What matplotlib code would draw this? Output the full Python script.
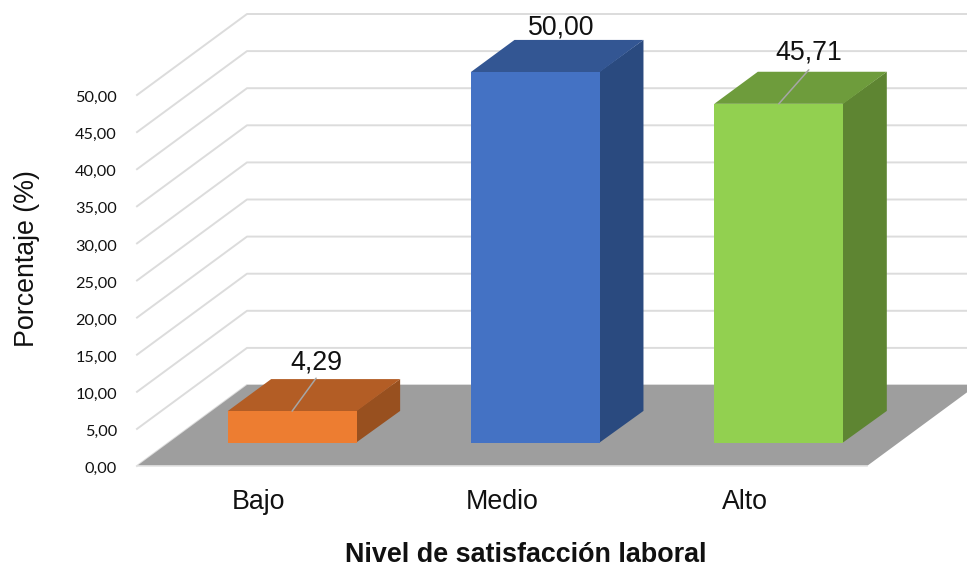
import matplotlib
matplotlib.use("Agg")
import matplotlib.pyplot as plt
from matplotlib.transforms import ScaledTranslation

categories = ["Bajo", "Medio", "Alto"]
values = [4.29, 50.00, 45.71]
label_texts = ["4,29", "50,00", "45,71"]
y_ticks = [0, 5, 10, 15, 20, 25, 30, 35, 40, 45, 50]
y_tick_labels = ["0,00", "5,00", "10,00", "15,00", "20,00", "25,00",
                 "30,00", "35,00", "40,00", "45,00", "50,00"]
front_colors = ["#ed7d31", "#4472c4", "#92d050"]
top_colors = ["#b35d25", "#335693", "#6e9c3c"]
side_colors = ["#98501f", "#2a4a7f", "#5e8532"]

W, H = 967, 569
# plot box in pixels: front edge of the floor
left_px, right_px, y0_px, y50_px = 137, 867, 466, 95
slot_px = (right_px - left_px) / 3
unit_px = (y0_px - y50_px) / 50

# fake 3d: how far a point at depth 1 is shifted, in data units
depth_x = 110 / slot_px
depth_y = 81 / unit_px
bar_d0 = 0.284
bar_d1 = 0.68
bar_w = 0.53


def shift(x, y, d):
    return x + d * depth_x, y + d * depth_y


fig = plt.figure(figsize=(W / 100, H / 100), dpi=100)
ax = fig.add_axes([left_px / W, (H - y0_px) / H,
                   (right_px - left_px) / W, (y0_px - y50_px) / H])
ax.set_xlim(0, 3)
ax.set_ylim(0, 50)
for s in ax.spines.values():
    s.set_visible(False)

# walls
for t in y_ticks:
    x1, y1 = shift(0, t, 1)
    x2, y2 = shift(3, t, 1)
    ax.plot([0, x1, x2], [t, y1, y2], color="#dcdcdc", lw=1.4, clip_on=False, zorder=1)

# floor
fx = [0, 3, shift(3, 0, 1)[0], shift(0, 0, 1)[0]]
fy = [0, 0, depth_y, depth_y]
ax.fill(fx, fy, color="#9e9e9e", lw=0, clip_on=False, zorder=2)
ax.plot([0, 3], [0, 0], color="#e4e4e4", lw=1.2, clip_on=False, zorder=2)

leader_px = [(24, 33), (26, 28), (30, 34)]
text_px = [49, 44, 51]

for i, v in enumerate(values):
    xa = i + 0.509 - bar_w / 2
    xb = xa + bar_w
    ax0, y0 = shift(xa, 0, bar_d0)
    bx0, _ = shift(xb, 0, bar_d0)
    ax1, y1 = shift(xa, 0, bar_d1)
    bx1, _ = shift(xb, 0, bar_d1)
    # side polygon reaches a little under the front face so no seam shows
    ax.fill([bx0 - 0.004, bx1, bx1, bx0 - 0.004], [y0, y1, y1 + v, y0 + v], color=side_colors[i], lw=0, clip_on=False, zorder=3)
    ax.fill([ax0, bx0, bx1, ax1], [y0 + v, y0 + v, y1 + v, y1 + v], color=top_colors[i], lw=0, clip_on=False, zorder=3)
    ax.fill([ax0, bx0, bx0, ax0], [y0, y0, y0 + v, y0 + v], color=front_colors[i], lw=0, clip_on=False, zorder=4)
    # data label with its leader line
    cx = (ax0 + bx0) / 2
    dx, dy = leader_px[i]
    ax.annotate("", xy=(cx, y0 + v), xycoords="data",
                xytext=(dx * 0.72, dy * 0.72), textcoords="offset points",
                arrowprops=dict(arrowstyle="-", color="#a6a6a6", lw=1.1, shrinkA=0, shrinkB=0),
                zorder=5)
    ax.annotate(label_texts[i], xy=(cx, y0 + v), xycoords="data",
                xytext=(dx * 0.72, text_px[i] * 0.72), textcoords="offset points",
                ha="center", va="center", fontsize=19.3, family="Liberation Sans",
                color="#111111", annotation_clip=False, zorder=6)

ax.set_yticks(y_ticks)
ax.set_yticklabels(y_tick_labels, fontsize=11.7, family="Lato", color="#111111")
ax.set_xticks([i + 0.5 for i in range(3)])
ax.set_xticklabels(categories, fontsize=19.3, family="Liberation Sans", color="#111111")
ax.tick_params(axis="y", length=0, pad=14.5)
ax.tick_params(axis="x", length=0, pad=16.5)
# nudge the tick labels down to sit level with the gridline starts
down = ScaledTranslation(0, -1.5 / 100, fig.dpi_scale_trans)
for lab in ax.get_yticklabels():
    lab.set_transform(lab.get_transform() + down)

ax.set_ylabel("Porcentaje (%)", fontsize=19.3, family="Liberation Sans", color="#111111")
ax.yaxis.set_label_coords((27 - left_px) / (right_px - left_px), (y0_px - 259) / (y0_px - y50_px))
ax.set_xlabel("Nivel de satisfacción laboral", fontsize=19.4, fontweight="bold", family="Liberation Sans", color="#111111")
ax.xaxis.set_label_coords((526 - left_px) / (right_px - left_px), -(555 - y0_px) / (y0_px - y50_px))
ax.xaxis.label.set_va("center")
ax.yaxis.label.set_va("center")

fig.savefig("out.png", dpi=100)
